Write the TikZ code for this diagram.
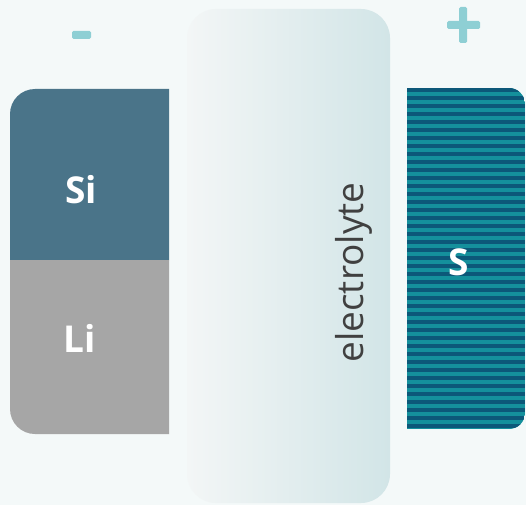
\documentclass[tikz,border=0pt]{standalone}
\usepackage{fontspec}
\setmainfont{Open Sans}
\usetikzlibrary{shapes.geometric}
\definecolor{bgcol}{HTML}{F4F9F9}
\definecolor{sicol}{HTML}{4A7489}
\definecolor{licol}{HTML}{A6A6A6}
\definecolor{signcol}{HTML}{8ECFD4}
\definecolor{elleft}{HTML}{F3F6F6}
\definecolor{elright}{HTML}{D2E5E7}
\definecolor{stripedark}{HTML}{0C5879}
\definecolor{stripeteal}{HTML}{14909C}
\definecolor{textgray}{HTML}{404040}
\tikzset{
  label/.style={text=white, font=\bfseries\fontsize{37}{37}\selectfont, inner sep=0pt},
  signbar/.style={fill=signcol, rounded corners=1.5pt},
}
\begin{document}
\begin{tikzpicture}[x=1pt, y=-1pt]
  % canvas
  \fill[bgcol] (0,0) rectangle (526,505);
  \useasboundingbox (0,0) rectangle (526,505);

  % electrolyte with horizontal gradient
  \shade[left color=elleft, right color=elright, rounded corners=29pt]
    (187,9) rectangle (390,503);
  \node[rotate=90, anchor=base, text=textgray, inner sep=0pt,
        font=\fontsize{37}{37}\selectfont] (elec) at (363,272.5) {electrolyte};

  % negative electrode: Si over Li
  \fill[sicol] (169,260) -- (10,260) [rounded corners=25pt] -- (10,89) [sharp corners] -- (169,89) -- cycle;
  \fill[licol] (169,260) -- (10,260) [rounded corners=25pt] -- (10,434) [sharp corners] -- (169,434) -- cycle;
  \node[label] (si) at (81,190) {Si};
  \node[label] (li) at (80,338) {Li};

  % positive electrode: striped sulfur
  \begin{scope}
    \clip (407,88) [rounded corners=16pt] -- (525,88) -- (525,429) [sharp corners] -- (407,429) -- cycle;
    \fill[stripeteal] (407,88) rectangle (525,429);
    \foreach \k in {0,...,42} {
      \fill[stripedark] (407,88+8*\k) rectangle (525,92+8*\k);
    }
  \end{scope}
  \node[label] (s) at (459,262) {S};

  % polarity signs
  \fill[signcol, rounded corners=1.5pt] (72,31) rectangle (91,39);
  \fill[signcol, rounded corners=1.5pt] (447,21) rectangle (480,29);
  \fill[signcol, rounded corners=1.5pt] (459,7) rectangle (467,43);
\end{tikzpicture}
\end{document}
